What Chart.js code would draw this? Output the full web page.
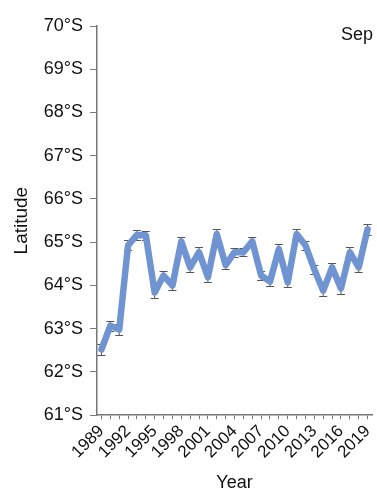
<!DOCTYPE html>
<html>
<head>
<meta charset="utf-8">
<script src="https://cdn.jsdelivr.net/npm/chart.js@4"></script>
<style>
  html, body { margin: 0; padding: 0; background: #fff; }
  #wrap { width: 377px; height: 494px; }
</style>
</head>
<body>
<div id="wrap"><canvas id="c" width="377" height="494"></canvas></div>
<script>
// September mean latitude of the ice edge, 1989-2019
const years = [1989,1990,1991,1992,1993,1994,1995,1996,1997,1998,1999,2000,2001,2002,2003,2004,2005,2006,2007,2008,2009,2010,2011,2012,2013,2014,2015,2016,2017,2018,2019];
const latitude = [62.52,63.07,62.98,64.93,65.17,65.16,63.84,64.23,64.00,65.02,64.42,64.77,64.19,65.19,64.47,64.77,64.77,65.02,64.23,64.09,64.84,64.07,65.19,64.93,64.37,63.88,64.42,63.93,64.77,64.42,65.30];
const stdErr = [0.13,0.12,0.12,0.12,0.11,0.11,0.12,0.11,0.11,0.11,0.10,0.11,0.11,0.12,0.10,0.10,0.09,0.10,0.11,0.11,0.11,0.11,0.12,0.11,0.11,0.12,0.11,0.12,0.11,0.11,0.13];
const yTicks = [61,62,63,64,65,66,67,68,69,70];
const monthLabel = 'Sep';

const FONT = 'Liberation Sans, Arial, sans-serif';

// whiskers with caps, drawn under the line
const errorBars = {
  id: 'errorBars',
  beforeDatasetsDraw(chart) {
    const ctx = chart.ctx;
    const xs = chart.scales.x, ys = chart.scales.y;
    ctx.save();
    ctx.strokeStyle = '#555555';
    ctx.lineWidth = 1;
    latitude.forEach((v, i) => {
      const x = xs.getPixelForValue(i);
      const yTop = Math.round(ys.getPixelForValue(v + stdErr[i])) + 0.5;
      const yBot = Math.round(ys.getPixelForValue(v - stdErr[i])) + 0.5;
      ctx.beginPath();
      ctx.moveTo(x, yTop); ctx.lineTo(x, yBot);
      ctx.moveTo(x - 4, yTop); ctx.lineTo(x + 4, yTop);
      ctx.moveTo(x - 4, yBot); ctx.lineTo(x + 4, yBot);
      ctx.stroke();
    });
    ctx.restore();
  }
};

const cornerLabel = {
  id: 'cornerLabel',
  afterDraw(chart) {
    const ctx = chart.ctx, a = chart.chartArea;
    ctx.save();
    ctx.font = '18px ' + FONT;
    ctx.fillStyle = '#111';
    ctx.textAlign = 'right';
    ctx.textBaseline = 'middle';
    ctx.fillText(monthLabel, a.right + 1, a.top + 9);
    ctx.restore();
  }
};

new Chart(document.getElementById('c'), {
  type: 'line',
  data: {
    labels: years.map(String),
    datasets: [{
      data: latitude,
      borderColor: '#7094D2',
      borderWidth: 6.5,
      pointRadius: 0,
      tension: 0,
      borderJoinStyle: 'round',
      borderCapStyle: 'round',
      fill: false
    }]
  },
  options: {
    responsive: false,
    animation: false,
    layout: { padding: { top: 26, right: 5, left: 10, bottom: 0 } },
    plugins: { legend: { display: false }, tooltip: { enabled: false } },
    scales: {
      x: {
        type: 'category',
        offset: true,
        afterFit: (s) => { s.paddingRight = 0; },
        grid: { drawOnChartArea: false, drawTicks: true, tickLength: 4, color: '#777', offset: false },
        border: { color: '#777', width: 1.5 },
        ticks: {
          autoSkip: false,
          maxRotation: 45,
          minRotation: 45,
          padding: 2,
          color: '#111',
          font: { family: FONT, size: 17 },
          callback: (v, i) => ((years[i] - 1989) % 3 === 0 ? String(years[i]) : '')
        },
        title: { display: true, text: 'Year', color: '#111', font: { family: FONT, size: 18 }, padding: { top: 8, bottom: 0 } }
      },
      y: {
        min: 61,
        max: 70,
        afterBuildTicks: (s) => { s.ticks = yTicks.map(v => ({ value: v })); },
        grid: { drawOnChartArea: false, drawTicks: true, tickLength: 7, color: '#777' },
        border: { color: '#777', width: 1.5 },
        ticks: {
          color: '#111',
          padding: 7,
          font: { family: FONT, size: 18 },
          callback: (v) => v + '°S'
        },
        title: { display: true, text: 'Latitude', color: '#111', font: { family: FONT, size: 19 }, padding: { top: 0, bottom: 4 } }
      }
    }
  },
  plugins: [errorBars, cornerLabel]
});
</script>
</body>
</html>
